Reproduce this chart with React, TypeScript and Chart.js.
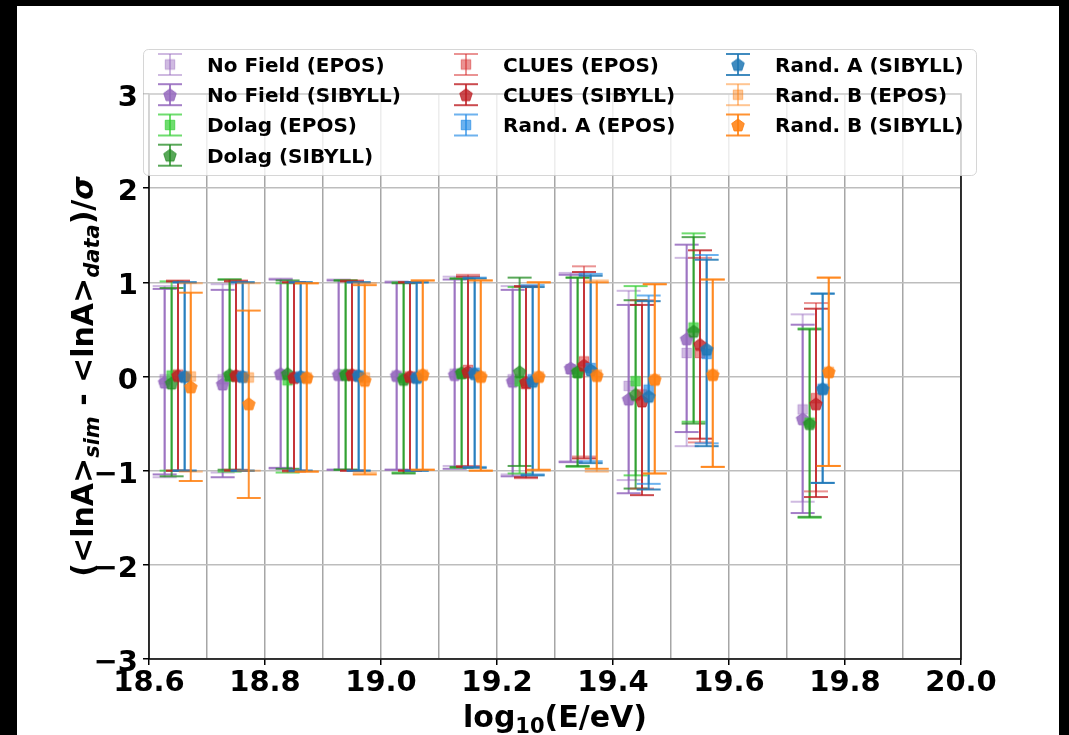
import React, { useEffect, useRef } from 'react';
import { Chart, registerables } from 'chart.js';

Chart.register(...registerables);

// ---------------- data ----------------
const BIN_CENTERS = [18.65, 18.75, 18.85, 18.95, 19.05, 19.15, 19.25, 19.35, 19.45, 19.55, 19.75];
const X_GRID = [18.6, 18.7, 18.8, 18.9, 19.0, 19.1, 19.2, 19.3, 19.4, 19.5, 19.6, 19.7, 19.8, 19.9, 20.0];
const X_TICK_LABELS = ['18.6', '18.8', '19.0', '19.2', '19.4', '19.6', '19.8', '20.0'];
const Y_TICKS = [-3, -2, -1, 0, 1, 2, 3];

// x offsets of each model inside a bin (data units)
const OFF_NOFIELD = -0.023;
const OFF_DOLAG = -0.011;
const OFF_CLUES = 0;
const OFF_RANDA = 0.0115;
const OFF_RANDB = 0.022;

const NOFIELD_EPOS_Y = [-0.03, -0.03, 0.02, 0.02, 0.01, 0.03, -0.03, 0.08, -0.10, 0.25, -0.35];
const NOFIELD_EPOS_HI = [0.96, 0.98, 1.04, 1.03, 1.01, 1.06, 0.96, 1.10, 0.91, 1.26, 0.66];
const NOFIELD_EPOS_LO = [-1.07, -1.02, -0.98, -0.99, -0.99, -0.95, -1.04, -0.90, -1.10, -0.74, -1.33];

const NOFIELD_SIBYLL_Y = [-0.06, -0.08, 0.03, 0.02, 0.01, 0.02, -0.05, 0.09, -0.24, 0.40, -0.45];
const NOFIELD_SIBYLL_HI = [0.93, 0.92, 1.03, 1.02, 1.00, 1.03, 0.92, 1.08, 0.76, 1.40, 0.55];
const NOFIELD_SIBYLL_LO = [-1.04, -1.07, -0.97, -0.99, -0.99, -0.98, -1.06, -0.91, -1.24, -0.59, -1.45];

const DOLAG_EPOS_Y = [0.01, 0.00, -0.04, 0.02, -0.02, 0.03, -0.05, 0.04, -0.05, 0.52, -0.49];
const DOLAG_EPOS_HI = [1.01, 1.03, 0.99, 1.02, 1.00, 1.04, 0.95, 1.05, 0.96, 1.52, 0.51];
const DOLAG_EPOS_LO = [-1.00, -1.01, -1.02, -0.99, -1.02, -0.97, -1.03, -0.96, -1.05, -0.48, -1.50];

const DOLAG_SIBYLL_Y = [-0.07, 0.02, 0.03, 0.02, -0.03, 0.04, 0.05, 0.05, -0.19, 0.48, -0.50];
const DOLAG_SIBYLL_HI = [0.94, 1.03, 1.02, 1.02, 0.99, 1.04, 1.05, 1.05, 0.81, 1.48, 0.50];
const DOLAG_SIBYLL_LO = [-1.06, -0.99, -0.98, -0.99, -1.03, -0.96, -0.95, -0.95, -1.19, -0.50, -1.49];

const CLUES_EPOS_Y = [0.02, 0.01, -0.01, 0.02, 0.00, 0.07, -0.08, 0.16, -0.19, 0.25, -0.23];
const CLUES_EPOS_HI = [1.02, 1.02, 1.00, 1.02, 1.00, 1.08, 0.95, 1.17, 0.81, 1.26, 0.78];
const CLUES_EPOS_LO = [-1.00, -0.99, -1.01, -1.00, -1.00, -0.95, -1.08, -0.85, -1.19, -0.70, -1.22];

const CLUES_SIBYLL_Y = [0.01, 0.01, -0.01, 0.02, 0.00, 0.05, -0.06, 0.12, -0.26, 0.34, -0.29];
const CLUES_SIBYLL_HI = [1.01, 1.01, 1.00, 1.01, 1.00, 1.06, 0.96, 1.11, 0.76, 1.34, 0.72];
const CLUES_SIBYLL_LO = [-1.00, -1.00, -1.00, -1.00, -1.00, -0.96, -1.07, -0.87, -1.26, -0.66, -1.28];

const RANDA_EPOS_Y = [0.00, 0.00, 0.00, 0.01, -0.01, 0.04, -0.03, 0.09, -0.14, 0.24, -0.13];
const RANDA_EPOS_HI = [1.00, 1.00, 1.00, 1.00, 1.00, 1.05, 0.97, 1.09, 0.86, 1.29, 0.88];
const RANDA_EPOS_LO = [-1.00, -1.00, -1.00, -1.00, -1.00, -0.96, -1.04, -0.90, -1.14, -0.71, -1.13];

const RANDA_SIBYLL_Y = [0.00, 0.00, 0.00, 0.01, -0.01, 0.03, -0.05, 0.07, -0.21, 0.29, -0.13];
const RANDA_SIBYLL_HI = [1.00, 1.00, 1.00, 1.00, 1.00, 1.04, 0.95, 1.07, 0.80, 1.24, 0.88];
const RANDA_SIBYLL_LO = [-1.00, -1.00, -1.00, -1.00, -1.00, -0.97, -1.05, -0.92, -1.20, -0.74, -1.13];

const RANDB_EPOS_Y = [0.00, -0.01, -0.01, -0.01, 0.02, 0.00, 0.00, 0.02, -0.03, 0.02, 0.05];
const RANDB_EPOS_HI = [0.99, 0.99, 0.99, 0.99, 1.02, 1.02, 1.00, 1.02, 0.98, 1.03, 1.05];
const RANDB_EPOS_LO = [-1.01, -1.00, -1.01, -1.02, -0.99, -1.00, -1.00, -1.01, -1.03, -0.96, -0.95];

const RANDB_SIBYLL_Y = [-0.11, -0.29, -0.01, -0.04, 0.02, 0.00, 0.00, 0.01, -0.03, 0.02, 0.05];
const RANDB_SIBYLL_HI = [0.89, 0.70, 0.99, 0.97, 1.02, 1.02, 1.00, 1.00, 0.98, 1.03, 1.05];
const RANDB_SIBYLL_LO = [-1.11, -1.29, -1.01, -1.04, -0.99, -1.00, -0.99, -0.98, -1.03, -0.96, -0.95];

type Marker = 'square' | 'pentagon';
interface Series { label: string; color: string; marker: Marker; offset: number; y: number[]; hi: number[]; lo: number[]; }

const SERIES: Series[] = [
  { label: 'No Field (EPOS)', color: 'rgba(148,103,189,0.45)', marker: 'square', offset: OFF_NOFIELD, y: NOFIELD_EPOS_Y, hi: NOFIELD_EPOS_HI, lo: NOFIELD_EPOS_LO },
  { label: 'No Field (SIBYLL)', color: 'rgba(148,103,189,0.85)', marker: 'pentagon', offset: OFF_NOFIELD, y: NOFIELD_SIBYLL_Y, hi: NOFIELD_SIBYLL_HI, lo: NOFIELD_SIBYLL_LO },
  { label: 'Dolag (EPOS)', color: 'rgba(50,205,50,0.7)', marker: 'square', offset: OFF_DOLAG, y: DOLAG_EPOS_Y, hi: DOLAG_EPOS_HI, lo: DOLAG_EPOS_LO },
  { label: 'Dolag (SIBYLL)', color: 'rgba(34,139,34,0.75)', marker: 'pentagon', offset: OFF_DOLAG, y: DOLAG_SIBYLL_Y, hi: DOLAG_SIBYLL_HI, lo: DOLAG_SIBYLL_LO },
  { label: 'CLUES (EPOS)', color: 'rgba(214,39,40,0.5)', marker: 'square', offset: OFF_CLUES, y: CLUES_EPOS_Y, hi: CLUES_EPOS_HI, lo: CLUES_EPOS_LO },
  { label: 'CLUES (SIBYLL)', color: 'rgba(190,30,35,0.8)', marker: 'pentagon', offset: OFF_CLUES, y: CLUES_SIBYLL_Y, hi: CLUES_SIBYLL_HI, lo: CLUES_SIBYLL_LO },
  { label: 'Rand. A (EPOS)', color: 'rgba(30,136,229,0.65)', marker: 'square', offset: OFF_RANDA, y: RANDA_EPOS_Y, hi: RANDA_EPOS_HI, lo: RANDA_EPOS_LO },
  { label: 'Rand. A (SIBYLL)', color: 'rgba(31,119,180,0.85)', marker: 'pentagon', offset: OFF_RANDA, y: RANDA_SIBYLL_Y, hi: RANDA_SIBYLL_HI, lo: RANDA_SIBYLL_LO },
  { label: 'Rand. B (EPOS)', color: 'rgba(255,127,14,0.45)', marker: 'square', offset: OFF_RANDB, y: RANDB_EPOS_Y, hi: RANDB_EPOS_HI, lo: RANDB_EPOS_LO },
  { label: 'Rand. B (SIBYLL)', color: 'rgba(255,127,14,0.85)', marker: 'pentagon', offset: OFF_RANDB, y: RANDB_SIBYLL_Y, hi: RANDB_SIBYLL_HI, lo: RANDB_SIBYLL_LO },
];

// ---------------- styling constants ----------------
const FONT = 'DejaVu Sans';
const CAP_HALF = 12;
const ERR_LW = 2;
const LEGEND_BOX = { x: 126, y: 43, w: 833, h: 126 };
const LEGEND_COL_X = [153, 449, 721];
const LEGEND_ROW_Y = [58.5, 88.7, 119, 149.2];
const LEGEND_TEXT_DX = 37;
const LEGEND_NCOL = 3;

function markerCanvas(kind: Marker, color: string): HTMLCanvasElement {
  const c = document.createElement('canvas');
  const S = 18;
  c.width = S;
  c.height = S;
  const g = c.getContext('2d')!;
  g.fillStyle = color;
  g.strokeStyle = color;
  g.lineWidth = 1;
  g.beginPath();
  if (kind === 'pentagon') {
    const R = 6.6;
    for (let k = 0; k < 5; k++) {
      const a = -Math.PI / 2 + (k * 2 * Math.PI) / 5;
      const px = S / 2 + R * Math.cos(a);
      const py = S / 2 + R * Math.sin(a) + 0.6;
      if (k === 0) g.moveTo(px, py);
      else g.lineTo(px, py);
    }
    g.closePath();
  } else {
    g.rect(S / 2 - 4.75, S / 2 - 4.75, 9.5, 9.5);
  }
  g.fill();
  g.stroke();
  return c;
}

function drawErrorBar(ctx: CanvasRenderingContext2D, x: number, yTop: number, yBot: number, color: string) {
  ctx.strokeStyle = color;
  ctx.lineWidth = ERR_LW;
  ctx.beginPath();
  ctx.moveTo(x, yTop);
  ctx.lineTo(x, yBot);
  ctx.stroke();
  ctx.beginPath();
  ctx.moveTo(x - CAP_HALF, yTop);
  ctx.lineTo(x + CAP_HALF, yTop);
  ctx.stroke();
  ctx.beginPath();
  ctx.moveTo(x - CAP_HALF, yBot);
  ctx.lineTo(x + CAP_HALF, yBot);
  ctx.stroke();
}

const errorBarPlugin = {
  id: 'errorBars',
  beforeDatasetsDraw(chart: any) {
    const ctx = chart.ctx as CanvasRenderingContext2D;
    const xs = chart.scales.x;
    const ys = chart.scales.y;
    const area = chart.chartArea;
    ctx.save();
    ctx.beginPath();
    ctx.rect(area.left, area.top, area.right - area.left, area.bottom - area.top);
    ctx.clip();
    chart.data.datasets.forEach((ds: any) => {
      ds.data.forEach((p: any, i: number) => {
        const px = xs.getPixelForValue(p.x);
        drawErrorBar(ctx, px, ys.getPixelForValue(ds.hi[i]), ys.getPixelForValue(ds.lo[i]), ds.errColor);
      });
    });
    ctx.restore();
  },
};

const spinePlugin = {
  id: 'spines',
  afterDatasetsDraw(chart: any) {
    const ctx = chart.ctx as CanvasRenderingContext2D;
    const a = chart.chartArea;
    ctx.save();
    ctx.strokeStyle = '#000';
    ctx.lineWidth = 1.5;
    ctx.strokeRect(a.left, a.top, a.right - a.left, a.bottom - a.top);
    ctx.restore();
  },
};

interface Run { t: string; f: string; dy: number; }

function drawRuns(ctx: CanvasRenderingContext2D, runs: Run[], cx: number, baseY: number) {
  let total = 0;
  const widths = runs.map((r) => {
    ctx.font = r.f;
    const w = ctx.measureText(r.t).width;
    total += w;
    return w;
  });
  let x = cx - total / 2;
  runs.forEach((r, i) => {
    ctx.font = r.f;
    ctx.fillText(r.t, x, baseY + r.dy);
    x += widths[i];
  });
}

const titlePlugin = {
  id: 'mathTitles',
  afterDraw(chart: any) {
    const ctx = chart.ctx as CanvasRenderingContext2D;
    const a = chart.chartArea;
    const big = `bold 30px "${FONT}"`;
    const sub = `bold 21px "${FONT}"`;
    const subIt = `italic bold 21px "${FONT}"`;
    const bigIt = `italic bold 30px "${FONT}"`;
    ctx.save();
    ctx.fillStyle = '#000';
    ctx.textAlign = 'left';
    ctx.textBaseline = 'alphabetic';
    drawRuns(ctx, [
      { t: 'log', f: big, dy: 0 },
      { t: '10', f: sub, dy: 6 },
      { t: '(E/eV)', f: big, dy: 0 },
    ], (a.left + a.right) / 2, 721);
    ctx.translate(76, (a.top + a.bottom) / 2);
    ctx.rotate(-Math.PI / 2);
    drawRuns(ctx, [
      { t: '(<lnA>', f: big, dy: 0 },
      { t: 'sim', f: subIt, dy: 6 },
      { t: ' - <lnA>', f: big, dy: 0 },
      { t: 'data', f: subIt, dy: 6 },
      { t: ')/', f: big, dy: 0 },
      { t: 'σ', f: bigIt, dy: 0 },
    ], 0, 0);
    ctx.restore();
  },
};

const legendPlugin = {
  id: 'mplLegend',
  afterDraw(chart: any) {
    const ctx = chart.ctx as CanvasRenderingContext2D;
    const ds = chart.data.datasets as any[];
    const b = LEGEND_BOX;
    ctx.save();
    ctx.beginPath();
    if ((ctx as any).roundRect) (ctx as any).roundRect(b.x + 0.5, b.y + 0.5, b.w, b.h, 5);
    else ctx.rect(b.x + 0.5, b.y + 0.5, b.w, b.h);
    ctx.fillStyle = 'rgba(255,255,255,0.8)';
    ctx.fill();
    ctx.strokeStyle = 'rgba(204,204,204,0.8)';
    ctx.lineWidth = 1;
    ctx.stroke();

    const n = ds.length;
    const base = Math.floor(n / LEGEND_NCOL);
    const extra = n % LEGEND_NCOL;
    let idx = 0;
    for (let col = 0; col < LEGEND_NCOL; col++) {
      const count = base + (col < extra ? 1 : 0);
      for (let row = 0; row < count; row++) {
        const d = ds[idx++];
        const cx = LEGEND_COL_X[col];
        const cy = LEGEND_ROW_Y[row];
        drawErrorBar(ctx, cx, cy - 10.5, cy + 10.5, d.errColor);
        const img = d.pointStyle as HTMLCanvasElement;
        ctx.drawImage(img, cx - img.width / 2, cy - img.height / 2);
        ctx.fillStyle = '#000';
        ctx.font = `bold 20px "${FONT}"`;
        ctx.textAlign = 'left';
        ctx.textBaseline = 'alphabetic';
        ctx.fillText(d.label, cx + LEGEND_TEXT_DX, cy + 7.3);
      }
    }
    ctx.restore();
  },
};

export default function App() {
  const ref = useRef<HTMLCanvasElement>(null);

  useEffect(() => {
    document.body.style.margin = '0';
    document.body.style.background = '#000';
    const canvas = ref.current!;
    const xTickFont = { family: FONT, size: 29, weight: 'bold' as const };
    const yTickFont = { family: FONT, size: 29, weight: 'bold' as const, lineHeight: '9px' };
    const chart = new Chart(canvas, {
      type: 'scatter',
      data: {
        datasets: SERIES.map((s, i) => ({
          label: s.label,
          data: BIN_CENTERS.map((b, j) => ({ x: b + s.offset, y: s.y[j] })),
          hi: s.hi,
          lo: s.lo,
          errColor: s.color,
          pointStyle: markerCanvas(s.marker, s.color),
          pointRadius: 6,
          pointHoverRadius: 6,
          backgroundColor: s.color,
          borderColor: s.color,
          showLine: false,
          order: -i,
        })) as any,
      },
      options: {
        responsive: false,
        animation: false,
        events: [],
        layout: { padding: { top: 88, right: 98, left: 0, bottom: 0 } },
        plugins: {
          legend: { display: false },
          tooltip: { enabled: false },
          title: { display: false },
        },
        scales: {
          x: {
            type: 'linear',
            min: 18.6,
            max: 20.0,
            afterBuildTicks: (s: any) => {
              s.ticks = X_GRID.map((v) => ({ value: v }));
            },
            afterFit: (s: any) => {
              s.height = 76;
            },
            ticks: {
              autoSkip: false,
              maxRotation: 0,
              padding: 1,
              color: '#000',
              font: xTickFont,
              callback: (v: any) => {
                const lbl = Number(v).toFixed(1);
                return X_TICK_LABELS.includes(lbl) ? lbl : '';
              },
            },
            grid: {
              color: '#a6a6a6',
              lineWidth: 1.5,
              tickLength: 6,
              tickWidth: 1.5,
              tickColor: (c: any) => (c.index % 2 === 0 ? '#000' : 'rgba(0,0,0,0)'),
            },
            border: { display: false },
          },
          y: {
            type: 'linear',
            min: -3,
            max: 3,
            afterBuildTicks: (s: any) => {
              s.ticks = Y_TICKS.map((v) => ({ value: v }));
            },
            afterFit: (s: any) => {
              s.width = 132;
            },
            ticks: {
              padding: 5,
              color: '#000',
              font: yTickFont as any,
              callback: (v: any) => ['', Number(v) < 0 ? '\u2212' + Math.abs(Number(v)) : String(v)],
            },
            grid: {
              color: '#bdbdbd',
              lineWidth: 1.5,
              tickLength: 6,
              tickWidth: 1.5,
              tickColor: '#000',
            },
            border: { display: false },
          },
        },
      },
      plugins: [errorBarPlugin, spinePlugin, titlePlugin, legendPlugin],
    });
    return () => chart.destroy();
  }, []);

  return (
    <div style={{ position: 'absolute', left: 17, top: 6, width: 1042, height: 729, background: '#fff' }}>
      <canvas ref={ref} width={1042} height={729} style={{ display: 'block', width: 1042, height: 729 }} />
    </div>
  );
}
